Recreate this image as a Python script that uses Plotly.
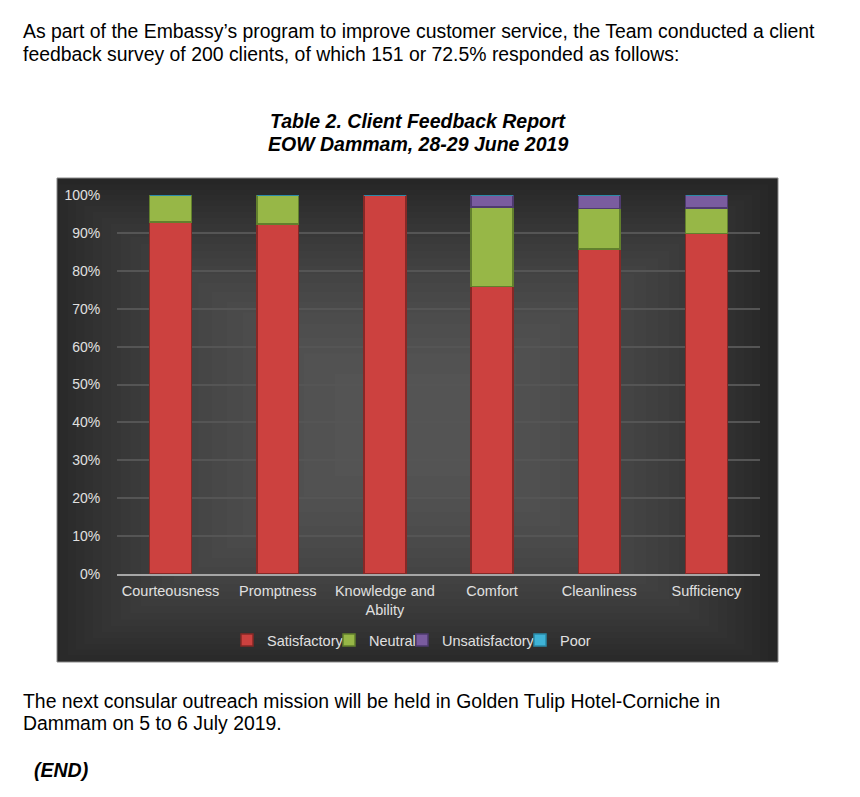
import plotly.graph_objects as go

W, H = 860, 797

categories = ["Courteousness", "Promptness", "Knowledge and<br>Ability", "Comfort", "Cleanliness", "Sufficiency"]
satisfactory = [0.929, 0.923, 1.000, 0.758, 0.858, 0.899]
neutral = [0.071, 0.077, 0.000, 0.211, 0.106, 0.067]
unsatisfactory = [0.000, 0.000, 0.000, 0.031, 0.036, 0.034]
poor = [0.0, 0.0, 0.0, 0.0, 0.0, 0.0]

series_names = ["Satisfactory", "Neutral", "Unsatisfactory", "Poor"]
series_values = [satisfactory, neutral, unsatisfactory, poor]
series_colors = ["#cc413f", "#97b747", "#7a5c9f", "#3fb3d6"]
series_lines = ["#862826", "#62802d", "#4f3b70", "#2a8aa8"]
legend_ids = ["legend", "legend2", "legend3", "legend4"]
legend_text_x = [262, 364, 437, 555]   # pixel where each legend label starts

y_ticks = [i / 10 for i in range(11)]
y_ticktext = [f"{i * 10}%" for i in range(11)]


def px(x):
    return x / W


def py(y):
    return (H - y) / H


fig = go.Figure()
for name, vals, col, lc, lg in zip(series_names, series_values, series_colors, series_lines, legend_ids):
    fig.add_trace(go.Bar(
        x=categories, y=vals, name=name, legend=lg, showlegend=True,
        marker=dict(color=col, line=dict(color=lc, width=1.5)),
    ))

shapes = []
# chart frame with a soft centre-lit gradient
shapes.append(dict(type="rect", xref="paper", yref="paper",
                   x0=px(57), x1=px(778), y0=py(662), y1=py(178),
                   fillcolor="#242424", line=dict(color="#8a8a8a", width=1), layer="below"))
cx, cy = 410, 425
steps = 24
for k in range(steps):
    f = (1 - k / steps) ** 0.5
    hw, hh = 365 * f + 1, 245 * f + 1
    x0 = max(58, cx - hw)
    x1 = min(777, cx + hw)
    y0 = min(661, cy + hh)
    y1 = max(179, cy - hh)
    shapes.append(dict(type="rect", xref="paper", yref="paper",
                       x0=px(x0), x1=px(x1), y0=py(y0), y1=py(y1),
                       fillcolor="#ffffff", opacity=0.013, line=dict(width=0), layer="below"))

annotations = []
body_font = dict(family="Liberation Sans, Arial", size=19.4, color="#000000")
title_font = dict(family="Liberation Sans, Arial", size=19.5, color="#000000")


def add_text(text, x, y, anchor, font):
    annotations.append(dict(text=text, x=px(x), y=py(y), xref="paper", yref="paper",
                            xanchor=anchor, yanchor="middle", showarrow=False, font=font))


add_text("As part of the Embassy’s program to improve customer service, the Team conducted a client", 21, 31, "left", body_font)
add_text("feedback survey of 200 clients, of which 151 or 72.5% responded as follows:", 21, 54, "left", body_font)
add_text("<b><i>Table 2. Client Feedback Report</i></b>", 418, 121, "center", title_font)
add_text("<b><i>EOW Dammam, 28-29 June 2019</i></b>", 418, 144, "center", title_font)
add_text("The next consular outreach mission will be held in Golden Tulip Hotel-Corniche in", 21, 701, "left", body_font)
add_text("Dammam on 5 to 6 July 2019.", 21, 723, "left", body_font)
add_text("<b><i>(END)</i></b>", 32, 770, "left", title_font)

legend_style = dict(orientation="h", yanchor="middle", xanchor="left", visible=True,
                    font=dict(family="Liberation Sans, Arial", size=14.5, color="#e0e0e0"),
                    bgcolor="rgba(0,0,0,0)", borderwidth=0, itemwidth=30)
legend_layouts = {}
for lg, tx in zip(legend_ids, legend_text_x):
    legend_layouts[lg] = dict(legend_style, x=px(tx - 35), y=py(640))

fig.update_layout(
    width=W, height=H,
    autosize=False,
    showlegend=True,
    margin=dict(l=0, r=0, t=0, b=0, pad=0, autoexpand=False),
    paper_bgcolor="#ffffff",
    plot_bgcolor="rgba(0,0,0,0)",
    barmode="stack",
    bargap=0.61,
    font=dict(family="Liberation Sans, Arial", size=14.5, color="#e0e0e0"),
    xaxis=dict(domain=[px(117), px(760)], showgrid=False, showline=True, linecolor="#a6a6a6", linewidth=2,
               tickfont=dict(size=14.5, color="#e0e0e0"), ticks="outside", ticklen=3,
               tickcolor="rgba(0,0,0,0)", zeroline=False, automargin=False),
    yaxis=dict(domain=[py(574), py(195)], range=[0, 1], tickvals=y_ticks, ticktext=y_ticktext,
               showgrid=True, gridcolor="#555555", gridwidth=1.5, zeroline=False, showline=False,
               ticks="outside", ticklen=13, tickcolor="rgba(0,0,0,0)", automargin=False,
               tickfont=dict(size=14, color="#e0e0e0")),
    shapes=shapes,
    annotations=annotations,
    **legend_layouts,
)

fig.write_html(
    "out.html",
    config={"responsive": False, "displayModeBar": False},
    post_script="document.body.style.margin='0';document.body.style.padding='0';document.body.style.overflow='hidden';",
)
